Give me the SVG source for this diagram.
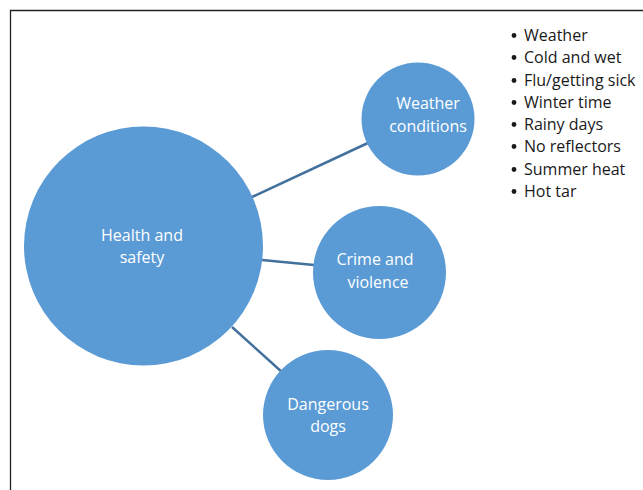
<svg xmlns="http://www.w3.org/2000/svg" width="643" height="490" viewBox="0 0 643 490">
<style>
.node{fill:#5B9BD5;}
.lbl{fill:#fff;font-family:"Open Sans","Liberation Sans",sans-serif;font-size:16px;text-anchor:middle;}
.edge{stroke:#41719C;stroke-width:2.5;fill:none;}
.list{fill:#1a1a1a;font-family:"Open Sans","Liberation Sans",sans-serif;font-size:16px;}
.dot{fill:#1a1a1a;}
</style>
<defs><circle id="bul" class="dot" r="2.4"/></defs>
<rect width="643" height="490" fill="#fff"/>
<path d="M10.5 490 V10.5 H643" fill="none" stroke="#222" stroke-width="1.3"/>
<g id="connectors">
<line class="edge" x1="252" y1="197" x2="370" y2="142"/>
<line class="edge" x1="262" y1="260" x2="314" y2="265"/>
<line class="edge" x1="232" y1="327" x2="283" y2="373"/>
</g>
<g id="health">
<circle class="node" cx="143.5" cy="246" r="119.5"/>
<text class="lbl" x="142" y="241">Health and</text>
<text class="lbl" x="142" y="263">safety</text>
</g>
<g id="weather">
<circle class="node" cx="418" cy="119" r="56.5"/>
<text class="lbl" x="428" y="109">Weather</text>
<text class="lbl" x="428" y="132">conditions</text>
</g>
<g id="crime">
<circle class="node" cx="379.5" cy="272.5" r="66.5"/>
<text class="lbl" x="375" y="265">Crime and</text>
<text class="lbl" x="378" y="288">violence</text>
</g>
<g id="dogs">
<circle class="node" cx="328" cy="415" r="65"/>
<text class="lbl" x="328" y="410">Dangerous</text>
<text class="lbl" x="328" y="432">dogs</text>
</g>
<g id="list" class="list">
<use href="#bul" x="514" y="35.5"/><text x="524" y="41">Weather</text>
<use href="#bul" x="514" y="57.5"/><text x="524" y="63">Cold and wet</text>
<use href="#bul" x="514" y="80.5"/><text x="524" y="86">Flu/getting sick</text>
<use href="#bul" x="514" y="102.5"/><text x="524" y="108">Winter time</text>
<use href="#bul" x="514" y="124.5"/><text x="524" y="130">Rainy days</text>
<use href="#bul" x="514" y="146.5"/><text x="524" y="152">No reflectors</text>
<use href="#bul" x="514" y="169.5"/><text x="524" y="175">Summer heat</text>
<use href="#bul" x="514" y="191.5"/><text x="524" y="197">Hot tar</text>
</g>
</svg>
